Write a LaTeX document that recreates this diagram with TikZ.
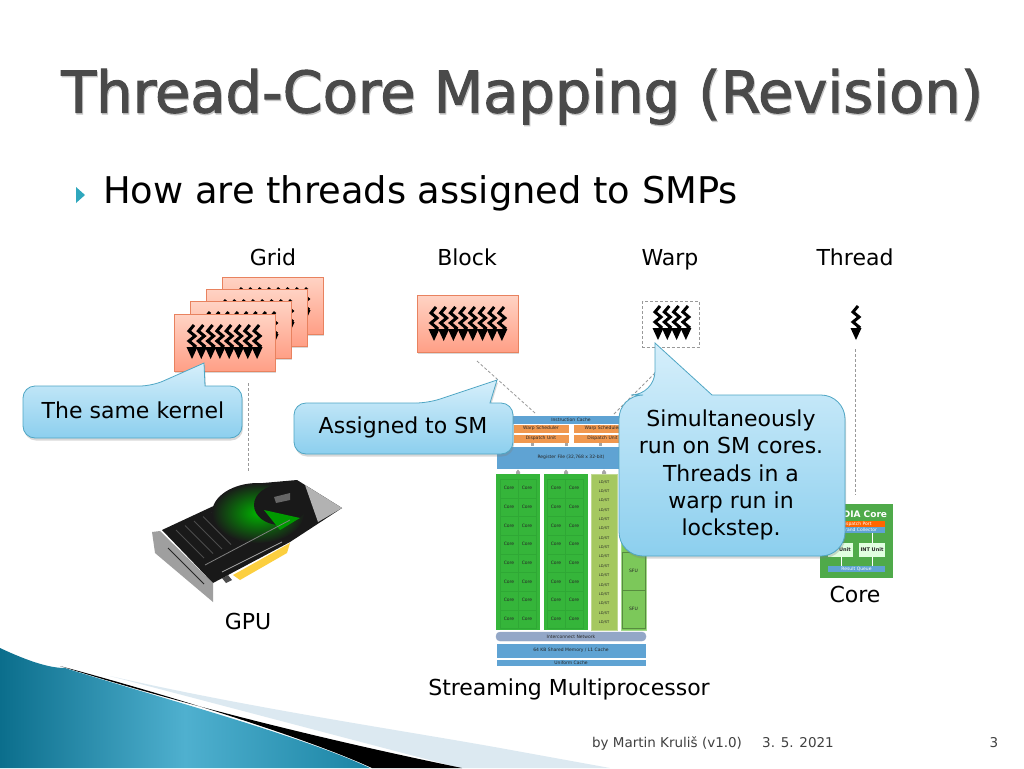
\documentclass[tikz,border=0pt]{standalone}
\usepackage{fontspec}
\setmainfont{DejaVu Sans}
\newfontfamily\titlefont[FakeBold=1.8]{DejaVu Sans}
\usetikzlibrary{shadows}
\definecolor{titlegray}{HTML}{4A4A4A}
\definecolor{smblue}{HTML}{5FA3D3}
\definecolor{smorange}{HTML}{F0984F}
\definecolor{smgreen}{HTML}{35B53A}
\definecolor{smcell}{HTML}{2FA835}
\definecolor{smolive}{HTML}{A5C860}
\definecolor{smsfu}{HTML}{7CC85A}
\definecolor{smnet}{HTML}{93A7C7}
\definecolor{coregreen}{HTML}{4FAA4A}
\definecolor{boxtop}{HTML}{FFD3C4}
\definecolor{boxbottom}{HTML}{FF9F86}
\definecolor{boxline}{HTML}{E8825F}
\definecolor{talktop}{HTML}{D6EFFB}
\definecolor{talkbottom}{HTML}{8CCFEE}
\definecolor{talkline}{HTML}{4FA6C4}
\definecolor{swooshdark}{HTML}{0B6E8C}
\definecolor{swooshlight}{HTML}{4FB0CF}
\definecolor{swooshend}{HTML}{1A84A4}
\definecolor{swooshpale}{HTML}{DCE9F1}
\definecolor{bulletteal}{HTML}{2FA7BD}
\tikzset{
  threadmark/.pic={
    \draw [line width=3pt] (2,0) -- (-3,6) -- (3,11) -- (-3,16) -- (3,21) -- (0,25);
    \fill (-5.5,22) -- (5.5,22) -- (0,34) -- cycle;
  },
  threadbox/.style={draw=boxline,line width=.8pt,top color=boxtop,bottom color=boxbottom,drop shadow={shadow xshift=1pt,shadow yshift=-2pt,opacity=.3}},
  calloutbox/.style={draw=talkline,line width=.8pt,top color=talktop,bottom color=talkbottom,drop shadow={shadow xshift=1pt,shadow yshift=-2.5pt,opacity=.3}},
  linkline/.style={densely dashed,gray!80,line width=.8pt},
  heading/.style={font=\fontsize{22}{22}\selectfont,inner sep=0pt,anchor=base},
  talk/.style={font=\fontsize{22}{27.2}\selectfont,align=center,inner sep=0pt},
  tiny/.style={font=\fontsize{4.5}{5}\selectfont,inner sep=0pt,text=black!85},
  smbar/.style={fill=smblue,draw=white,line width=.3pt},
  smorangebar/.style={fill=smorange,draw=white,line width=.3pt},
  nub/.style={fill=gray!70},
}
\begin{document}
\begin{tikzpicture}[x=1pt,y=-1pt]
      \useasboundingbox (0,0) rectangle (1024,768);
      \fill [white] (0,0) rectangle (1024,768);

      \fill [swooshpale](110,676) .. controls (250,708) and (400,730) .. (500,748) -- (610,768) -- (460,768) -- cycle;
      \fill (60,666) .. controls (200,710) and (350,745) .. (462,768) -- (372,768) .. controls (300,735) and (150,690) .. (60,666) -- cycle;
      \shade [left color=swooshdark,right color=swooshend,middle color=swooshlight](0,648) .. controls (30,662) and (50,668) .. (65,668) .. controls (150,695) and (300,735) .. (370,768) -- (0,768) -- cycle;

      \node [font=\fontsize{57.4}{58}\titlefont,text=gray!45,anchor=base west,inner sep=0pt] (titleshade) at (62,114) {Thread-Core Mapping (Revision)};
      \node [font=\fontsize{57.4}{58}\titlefont,text=titlegray,anchor=base west,inner sep=0pt] (titletxt) at (61,112.5) {Thread-Core Mapping (Revision)};

      \fill [bulletteal](76,187) -- (85,195) -- (76,203) -- cycle;
      \node [font=\fontsize{36.8}{37}\selectfont,anchor=base west,inner sep=0pt] (leadtxt) at (103,203) {How are threads assigned to SMPs};

      \node [heading] (gridtxt) at (273,265) {Grid};
      \node [heading] (blocktxt) at (467,265) {Block};
      \node [heading] (warptxt) at (670,265) {Warp};
      \node [heading] (threadtxt) at (855,265) {Thread};

      \foreach \x/\y in {222/277,206/289,190/301,174/314} {
        \draw [threadbox] (\x,\y) rectangle ++(101,57);
        \foreach \t in {0,...,7}
          \pic at (\x+18+\t*9.3,\y+11) {threadmark};
      }

      \draw [threadbox] (417,295) rectangle (518,352);
      \foreach \t in {0,...,7}
        \pic at (434+\t*9.7,307) {threadmark};

      \draw [linkline,line width=.7pt] (642.5,301) rectangle (699,347);
      \foreach \t in {0,...,3}
        \pic at (658+\t*9.3,306) {threadmark};

      \pic at (856,306) {threadmark};

      \coordinate (gridfoot) at (248,383);
      \coordinate (gputop) at (248,472);
      \coordinate (blockfoot) at (477,361);
      \coordinate (smleft) at (535,413);
      \coordinate (warpfoot) at (655,373);
      \coordinate (smright) at (610,418);
      \coordinate (threadfoot) at (855.5,349);
      \coordinate (coretop) at (855.5,495);
      \draw [linkline] (gridfoot) -- (gputop);
      \draw [linkline] (blockfoot) -- (smleft);
      \draw [linkline] (warpfoot) -- (smright);
      \draw [linkline] (threadfoot) -- (coretop);

      \draw [smbar](496,415) rectangle (646,424) node[pos=.5,tiny] (icachetxt) {Instruction Cache};
      \draw [smorangebar](513,424) rectangle (569,433) node[pos=.5,tiny] (sched1txt) {Warp Scheduler};
      \draw [smorangebar](573,424) rectangle (632,433) node[pos=.5,tiny] (sched2txt) {Warp Scheduler};
      \draw [smorangebar](513,434) rectangle (569,443) node[pos=.5,tiny] (disp1txt) {Dispatch Unit};
      \draw [smorangebar](573,434) rectangle (632,443) node[pos=.5,tiny] (disp2txt) {Dispatch Unit};
      \draw [smbar](496,446) rectangle (646,469) node[pos=.5,tiny] (regtxt) {Register File (32,768 x 32-bit)};
      \foreach \x in {532,566,600}
        \fill [nub] (\x-1.5,443) rectangle (\x+1.5,446);
      \foreach \x in {518,566,604}
        \fill [nub] (\x-2,472) -- (\x,469.5) -- (\x+2,472) -- (\x+2,474) -- (\x-2,474) -- cycle;

      \fill [smgreen](496,474) rectangle (540,630);
      \fill [smgreen](544,474) rectangle (588,630);
      \foreach \x in {500,547} {
        \foreach \r in {0,...,7} {
          \draw [smcell,line width=.4pt] (\x,479+\r*18.7) rectangle ++(18,18.7);
          \draw [smcell,line width=.4pt] (\x+18,479+\r*18.7) rectangle ++(18,18.7);
          \node [tiny] (corea\x\r) at (\x+9,488+\r*18.7) {Core};
          \node [tiny] (coreb\x\r) at (\x+27,488+\r*18.7) {Core};
        }
      }
      \draw [fill=smolive,draw=smolive!70!white,line width=.5pt](591,474) rectangle (617,630);
      \foreach \r in {0,...,15} {
        \node [tiny,font=\fontsize{3.6}{4}\selectfont] (ldst\r) at (604,482+\r*9.35) {LD/ST};
      }
      \draw [fill=smsfu,draw=smsfu!70!white,line width=.5pt](621,474) rectangle (646,630);
      \draw [smsfu!70!black,line width=.3pt](622,590) rectangle (645,628) node[pos=.5,tiny] (sfu1txt) {SFU};
      \draw [smsfu!70!black,line width=.3pt](622,552) rectangle (645,590) node[pos=.5,tiny] (sfu2txt) {SFU};

      \draw [fill=smnet,draw=smnet,rounded corners=4pt](496,632) rectangle (646,641) node[pos=.5,tiny] (nettxt) {Interconnect Network};
      \draw [smbar](496,643) rectangle (646,658) node[pos=.5,tiny] (memtxt) {64 KB Shared Memory / L1 Cache};
      \draw [smbar](496,659) rectangle (646,666) node[pos=.5,tiny] (uniftxt) {Uniform Cache};

      \fill [coregreen](820,504) rectangle (893,578);
      \node [font=\fontsize{9}{9}\selectfont\bfseries,text=white,inner sep=0pt] (nvtxt) at (856,514) {NVIDIA Core};
      \draw [draw=none,fill=orange!80!red](828,521) rectangle (885,527) node[pos=.5,tiny,text=white] (porttxt) {Dispatch Port};
      \draw [draw=none,fill=smblue](828,527) rectangle (885,533) node[pos=.5,tiny,text=white] (colltxt) {Operand Collector};
      \draw [draw=none,fill=green!12](828,543) rectangle (853,557) node[pos=.5,tiny,font=\fontsize{5}{5}\selectfont\bfseries] (fptxt) {FP Unit};
      \draw [draw=none,fill=green!12](859,543) rectangle (885,557) node[pos=.5,tiny,font=\fontsize{5}{5}\selectfont\bfseries] (inttxt) {INT Unit};
      \draw [draw=none,fill=smblue](828,566) rectangle (885,572) node[pos=.5,tiny,text=white] (queuetxt) {Result Queue};
      \foreach \x in {841,872} {
        \draw [white,line width=.6pt] (\x,557) -- (\x,566);
      }
      \draw [white,line width=.6pt] (872,533) -- (872,543);

      \fill [gray!75] (152,532) -- (160,531) -- (213,583) -- (213,602) -- (155,553) -- cycle;
      \draw [gray!30!black,line width=1pt] (168,548) -- (204,584);
      \fill [black!70] (222,578) -- (228,575) -- (232,580) -- (226,583) -- cycle;
      \fill [yellow!55!orange!75!white] (233,575) -- (290,543) -- (287,553) -- (240,580) -- cycle;
      \fill [black!90] (162,530) -- (263,483) -- (297,480) -- (342,508) -- (290,542) -- (213,583) -- cycle;
      \foreach \t in {0,1,2,3,4} {
        \draw [gray!60!black,line width=.8pt] (176+\t*9,530-\t*4.5) -- (204+\t*9,558-\t*4.5);
      }
      \shade [inner color=green!70!black,outer color=black!90] (258,513) ellipse (46 and 30);
      \fill [black!90] (280,505) ellipse (26 and 20);
      \fill [green!60!black] (264,510) -- (300,518) -- (280,530) -- cycle;
      \fill [black!60] (274,497) -- (290,493) -- (290,500) -- (276,503) -- cycle;
      \fill [gray!60] (305,485) -- (342,508) -- (318,522) -- (312,505) -- cycle;
      \draw [gray,line width=.8pt] (205,565) -- (290,520);
      \draw [gray!70,line width=.8pt] (222,572) -- (282,542);

      \node [heading] (gputxt) at (248,629) {GPU};
      \node [heading] (coretxt) at (855,602) {Core};
      \node [heading] (smtxt) at (569,695) {Streaming Multiprocessor};

      \draw [calloutbox] (152,386) [sharp corners] -- (204,363) -- (205,386) [rounded corners=12] -- (242,386) -- (242,438) -- (23,438) -- (23,386) -- cycle;
      \node [talk] (sametxt) at (133,410) {The same kernel};

      \draw [calloutbox] (428,403) [sharp corners] -- (497,380) -- (490,403) [rounded corners=12] -- (513,403) -- (513,454) -- (294,454) -- (294,403) -- cycle;
      \node [talk] (assigntxt) at (403,427.5) {Assigned to SM};

      \draw [calloutbox] (655,395) [sharp corners] -- (655,343) -- (712,395) [rounded corners=24] -- (845,395) -- (845,556) -- (619,556) -- (619,395) -- cycle;
      \node [talk] (runtxt) at (731,475) {Simultaneously\\run on SM cores.\\Threads in a\\warp run in\\lockstep.};

      \node [font=\fontsize{13.5}{14}\selectfont,inner sep=0pt,text=black!75] (authortxt) at (667,743) {by Martin Kruliš (v1.0)};
      \node [font=\fontsize{13.5}{14}\selectfont,inner sep=0pt,text=black!75] (datetxt) at (798,743) {3. 5. 2021};
      \node [font=\fontsize{13.5}{14}\selectfont,inner sep=0pt,text=black!75] (pagetxt) at (994,743) {3};
    \end{tikzpicture}
\end{document}
